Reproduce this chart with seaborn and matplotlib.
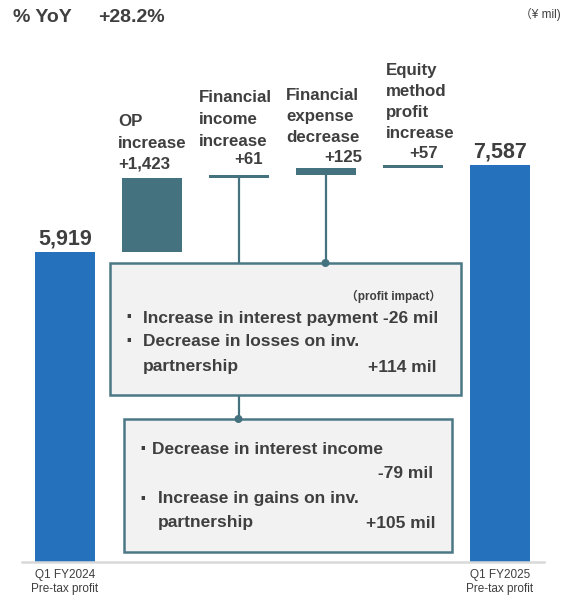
import matplotlib
matplotlib.use("Agg")
import matplotlib.pyplot as plt
import matplotlib.transforms as mtransforms
from matplotlib.patches import Rectangle, Circle
import seaborn as sns
import pandas as pd

# ---- data -------------------------------------------------------------
categories = ["Q1 FY2024", "OP increase", "Financial income increase",
              "Financial expense decrease", "Equity method profit increase",
              "Q1 FY2025"]
start_value = 5919
increments = [1423, 61, 125, 57]
end_value = 7587
tick_labels = ["Q1 FY2024\nPre-tax profit", "", "", "", "", "Q1 FY2025\nPre-tax profit"]
step_labels = [["OP", "increase", "+1,423"],
               ["Financial", "income", "increase", "+61"],
               ["Financial", "expense", "decrease", "+125"],
               ["Equity", "method", "profit", "increase", "+57"]]
yoy_text = "+28.2%"

heights = [start_value] + increments + [end_value]
bottoms = [0]
running = start_value
for inc in increments:
    bottoms.append(running)
    running += inc
bottoms.append(0)

df = pd.DataFrame({"item": categories, "value": heights})

# ---- style ------------------------------------------------------------
sns.set_style("white")
plt.rcParams["font.family"] = ["Liberation Sans", "Noto Sans CJK JP"]
TEXT = "#3f3f3f"
BLUE = "#2671bb"
TEAL = "#45727f"
EDGE = "#4a7885"

W, H = 569, 595
fig = plt.figure(figsize=(W / 100, H / 100), dpi=100)
ax = fig.add_axes([21.5 / W, 33 / H, 522 / W, 523 / H])

sns.barplot(data=df, x="item", y="value", order=categories, width=0.70,
            errorbar=None, color=BLUE, bottom=bottoms, linewidth=0, ax=ax)
bar_colors = [BLUE, TEAL, TEAL, TEAL, TEAL, BLUE]
for patch, c in zip(ax.patches, bar_colors):
    patch.set_facecolor(c)
    patch.set_zorder(2)

ax.set_xlim(-0.5, 5.5)
ax.set_ylim(0, 523 / 0.0523)
ax.set_xlabel("")
ax.set_ylabel("")
ax.set_yticks([])
ax.set_xticks(range(len(categories)))
ax.set_xticklabels(tick_labels, fontsize=8.5, color=TEXT, linespacing=1.25)
ax.tick_params(axis="x", length=0, pad=5)
for s in ["top", "left", "right"]:
    ax.spines[s].set_visible(False)
ax.spines["bottom"].set_color("#d9d9d9")
ax.spines["bottom"].set_linewidth(1.8)

# pixel coordinates measured from the top-left corner of the figure
PX = mtransforms.Affine2D().scale(1 / W, -1 / H).translate(0, 1) + fig.transFigure


def to_data_y(py):
    return ax.transData.inverted().transform(fig.transFigure.transform((0, 1 - py / H)))[1]


# value labels on the totals
for i, off in [(0, 8), (5, 8)]:
    ax.annotate(f"{heights[i]:,}", (i, heights[i]), xytext=(0, off),
                textcoords="offset pixels", ha="center", va="baseline",
                fontsize=15.5, fontweight="bold", color=TEXT)

# labels above the step bars
label_spots = [(118, [122, 143, 164], None),
               (199, [98, 119, 141], (263, 160)),
               (286, [96, 117, 137], (362, 158)),
               (386, [71, 91, 112, 133], (438, 154))]
for lines, (lx, ys, amt) in zip(step_labels, label_spots):
    words = lines if amt is None else lines[:-1]
    for w, yy in zip(words, ys):
        ax.text(lx, yy, w, transform=PX, ha="left", va="center", fontsize=12.2,
                fontweight="bold", color=TEXT)
    if amt is not None:
        ax.text(amt[0], amt[1], lines[-1], transform=PX, ha="right", va="center",
                fontsize=12.2, fontweight="bold", color=TEXT)

# header texts
ax.text(13, 18, "% YoY", transform=PX, ha="left", va="center", fontsize=14,
        fontweight="bold", color=TEXT)
ax.text(98, 18, yoy_text, transform=PX, ha="left", va="center", fontsize=14,
        fontweight="bold", color=TEXT)
ax.text(561, 14, "（¥ mil)", transform=PX, ha="right", va="center", fontsize=8.5,
        color=TEXT)

# connector lines from the financial bars down to their detail boxes
box1 = (110, 263, 461, 395)
box2 = (124, 419, 452, 552)
ax.vlines(2, to_data_y(box2[1]), bottoms[2], color=TEAL, linewidth=1.6, zorder=2)
ax.vlines(3, to_data_y(box1[1]), bottoms[3], color=TEAL, linewidth=1.6, zorder=2)

for (x0, y0, x1, y1) in (box1, box2):
    ax.add_patch(Rectangle((x0, y0), x1 - x0, y1 - y0, transform=PX, facecolor="#f2f2f2",
                           edgecolor=EDGE, linewidth=1.8, zorder=3, clip_on=False))

for cx, cy in ((325.5, box1[1]), (238.5, box2[1])):
    ax.add_patch(Circle((cx, cy), 4, transform=PX, facecolor=TEAL, edgecolor="none",
                        zorder=4, clip_on=False))

box_kw = dict(transform=PX, fontsize=12.5, fontweight="bold", color=TEXT, va="center", zorder=5)
dot_kw = dict(transform=PX, fontsize=17, fontweight="bold", color=TEXT, va="center",
              ha="center", zorder=5)

# box 1 : financial expense details
ax.text(441, 296, "（profit impact）", transform=PX, fontsize=8.5, fontweight="bold",
        color=TEXT, ha="right", va="center", zorder=5)
ax.text(129, 318, "·", **dot_kw)
ax.text(143, 318, "Increase in interest payment -26 mil", ha="left", **box_kw)
ax.text(129, 342, "·", **dot_kw)
ax.text(143, 342, "Decrease in losses on inv.", ha="left", **box_kw)
ax.text(143, 367, "partnership", ha="left", **box_kw)
ax.text(437, 367, "+114 mil", ha="right", **box_kw)

# box 2 : financial income details
ax.text(143, 450, "·", **dot_kw)
ax.text(152, 450, "Decrease in interest income", ha="left", **box_kw)
ax.text(433, 474, "-79 mil", ha="right", **box_kw)
ax.text(143, 499, "·", **dot_kw)
ax.text(158, 499, "Increase in gains on inv.", ha="left", **box_kw)
ax.text(158, 523, "partnership", ha="left", **box_kw)
ax.text(436, 523, "+105 mil", ha="right", **box_kw)

fig.savefig("out.png", dpi=100)
